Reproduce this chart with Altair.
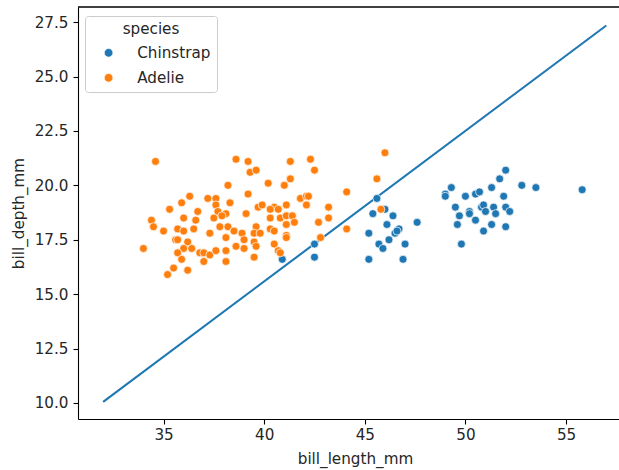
import altair as alt
import pandas as pd

# Adelie points (bill_length_mm, bill_depth_mm)
adelie_x = [34.6, 36.3, 35.9, 35.3, 36.7, 34.4, 36.0, 36.6, 34.5, 35.0, 35.7, 36.0, 36.5, 35.6, 35.7,
            36.2, 34.0, 36.0, 36.4, 35.7, 35.9, 35.5, 36.2, 35.2, 36.8,
            38.6, 39.2, 39.3, 39.6, 38.2, 40.2, 39.2, 37.2, 37.6, 38.3, 37.6, 37.7, 38.1, 39.1, 39.7,
            39.9, 37.5, 37.9, 37.8, 38.2, 38.5, 38.9, 39.6, 39.5, 39.8, 40.3, 37.3, 38.1, 39.0,
            39.5, 38.6, 39.0, 39.6, 37.0, 37.3, 37.6, 38.1, 39.5, 37.0, 38.1,
            41.3, 42.3, 42.5, 41.3, 41.0, 41.8, 42.1, 42.2, 42.1, 43.2, 43.2, 42.7, 40.5, 40.7, 41.1,
            40.3, 40.3, 40.8, 41.1, 41.4, 41.5, 41.1, 40.5, 41.1, 41.1, 42.8, 40.5, 40.7, 40.8,
            46.0, 45.6, 44.1, 44.1, 45.8]
adelie_y = [21.1, 19.5, 19.2, 18.9, 18.8, 18.4, 18.5, 18.4, 18.1, 17.9, 18.0, 17.9, 18.0, 17.5, 17.5,
            17.4, 17.1, 17.1, 17.1, 16.9, 16.6, 16.2, 16.1, 15.9, 16.9,
            21.2, 21.1, 20.6, 20.7, 20.0, 20.1, 19.6, 19.4, 19.4, 19.2, 19.1, 18.8, 18.7, 18.7, 19.0,
            19.1, 18.5, 18.6, 18.1, 18.1, 17.9, 17.8, 18.1, 17.8, 17.8, 18.0, 17.8, 17.6, 17.5,
            17.4, 17.2, 17.1, 17.2, 16.9, 16.8, 17.0, 17.0, 16.7, 16.5, 16.5,
            21.1, 21.2, 20.7, 20.3, 20.0, 19.4, 19.5, 19.5, 19.1, 19.0, 18.5, 18.3, 19.0, 18.9, 19.1,
            18.9, 18.5, 18.5, 18.6, 18.6, 18.3, 18.2, 17.9, 17.7, 17.6, 17.6, 17.3, 17.0, 16.9,
            21.5, 20.3, 19.7, 18.0, 18.9]

# Chinstrap points
chin_x = [40.9, 42.5, 42.5, 45.6, 45.4, 46.0, 46.4, 46.1, 46.7, 46.5, 46.6, 46.2, 45.2, 45.7, 45.9,
          47.0, 45.2, 46.9, 47.6, 49.8, 49.3, 49.0, 49.0, 50.0, 50.5, 50.7, 51.3, 51.7, 52.0, 52.8,
          53.5, 55.8, 51.9, 49.5, 49.7, 50.2, 50.2, 50.8, 50.9, 51.0, 51.4, 51.5, 52.0, 52.2, 50.5,
          49.6, 51.3, 52.0, 50.9]
chin_y = [16.6, 17.3, 16.7, 19.4, 18.7, 18.9, 18.6, 18.2, 18.0, 17.8, 17.9, 17.5, 17.8, 17.3, 17.1,
          17.3, 16.6, 16.6, 18.3, 17.3, 19.9, 19.6, 19.5, 19.5, 19.6, 19.7, 19.9, 20.3, 20.7, 20.0,
          19.9, 19.8, 19.5, 19.0, 18.6, 18.8, 18.7, 19.0, 19.1, 18.8, 19.0, 18.7, 19.0, 18.8, 18.4,
          18.2, 18.2, 18.1, 17.9]

# reference line endpoints
line_x = [32.0, 57.0]
line_y = [10.05, 27.35]

species_order = ["Chinstrap", "Adelie"]
species_colors = ["#1f77b4", "#ff7f0e"]

df = pd.DataFrame({
    "bill_length_mm": chin_x + adelie_x,
    "bill_depth_mm": chin_y + adelie_y,
    "species": ["Chinstrap"] * len(chin_x) + ["Adelie"] * len(adelie_x),
})
line_df = pd.DataFrame({"bill_length_mm": line_x, "bill_depth_mm": line_y})

W, H = 541, 412
FONT = "DejaVu Sans"
FS = 15.2

xscale = alt.Scale(domain=[30.75, 57.63], nice=False, zero=False)
yscale = alt.Scale(domain=[9.26, 28.2], nice=False, zero=False)

common = dict(labelFontSize=FS, titleFontSize=FS, labelFont=FONT, titleFont=FONT,
              titleFontWeight="normal", labelColor="#262626", titleColor="#262626")

xaxis = alt.Axis(values=[35, 40, 45, 50, 55], format="d", grid=False, tickSize=5,
                 labelPadding=3, title="bill_length_mm", titleX=277, titleY=44,
                 titleBaseline="alphabetic", titleAlign="center", titleAngle=0, **common)
yaxis = alt.Axis(values=[10, 12.5, 15, 17.5, 20, 22.5, 25, 27.5], format=".1f", grid=False,
                 tickSize=5, labelPadding=5, title="bill_depth_mm", titleX=-55, titleY=206,
                 titleAngle=270, titleBaseline="alphabetic", titleAlign="center", **common)

line = alt.Chart(line_df).mark_line(color="#1f77b4", strokeWidth=2.1).encode(
    x=alt.X("bill_length_mm:Q", scale=xscale, axis=xaxis),
    y=alt.Y("bill_depth_mm:Q", scale=yscale, axis=yaxis),
)

points = alt.Chart(df).mark_circle(size=64, opacity=1, stroke="white", strokeWidth=0.7).encode(
    x=alt.X("bill_length_mm:Q", scale=xscale, axis=xaxis),
    y=alt.Y("bill_depth_mm:Q", scale=yscale, axis=yaxis),
    color=alt.Color("species:N", scale=alt.Scale(domain=species_order, range=species_colors),
                    legend=alt.Legend(orient="none", legendX=7, legendY=9, title="species",
                                      titleAnchor="middle", titleFontWeight="normal",
                                      titleFontSize=FS, labelFontSize=FS, titleFont=FONT,
                                      labelFont=FONT, titleColor="#262626", labelColor="#262626",
                                      padding=6, symbolOffset=10, labelOffset=21,
                                      rowPadding=9, titlePadding=8, fillColor="white",
                                      strokeColor="#cccccc", cornerRadius=3,
                                      symbolType="circle", symbolSize=75,
                                      symbolStrokeColor="white", symbolStrokeWidth=0.7)),
)

top_spine = alt.Chart(line_df).mark_rule(color="black", strokeWidth=1.1).encode(
    x=alt.value(0), x2=alt.value(W), y=alt.value(0)
)

chart = alt.layer(line, points, top_spine).properties(
    width=W, height=H,
    background="white",
    autosize=alt.AutoSizeParams(type="none"),
    padding={"left": 78, "top": 7, "right": 0, "bottom": 51},
).configure_view(stroke=None).configure_axis(
    domainColor="black", domainWidth=1.1, tickColor="black", tickWidth=1.1,
)

chart.save("out.html", embed_options={"renderer": "svg", "actions": False})
